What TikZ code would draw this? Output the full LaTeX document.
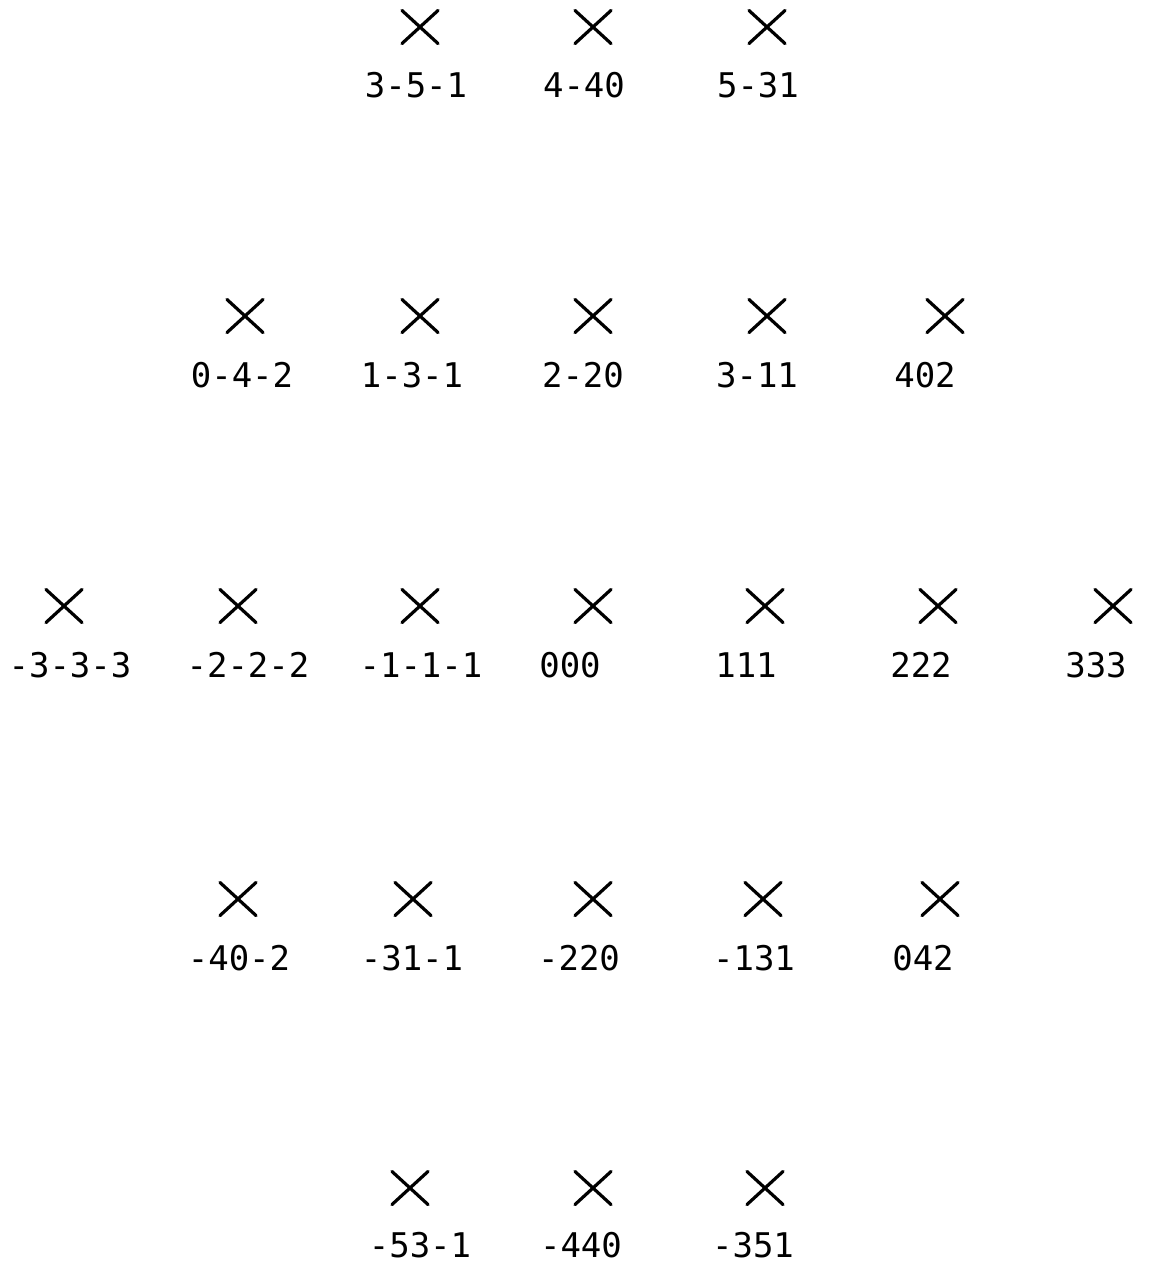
\documentclass[tikz,border=0pt]{standalone}
\usepackage{fontspec}
\setmonofont{DejaVu Sans Mono}
\usetikzlibrary{shapes.misc}

\tikzset{spot/.style = {cross out, draw, line width=1.6pt, line cap=round,
                        inner sep=0, minimum width=16.5pt, minimum height=15pt}}
\tikzset{hkl/.style = {inner sep=0, font=\fontsize{17}{20}\selectfont\ttfamily}}

\begin{document}
\begin{tikzpicture}[x=0.5pt, y=-0.5pt]
      \useasboundingbox (0,0) rectangle (1152,1271);

      % top row
      \node[spot] (a1) at (420,27) {};
      \node[spot] (a2) at (593,27) {};
      \node[spot] (a3) at (767,27) {};
      \node[hkl] (la1) at (416,85) {3-5-1};
      \node[hkl] (la2) at (584,85) {4-40};
      \node[hkl] (la3) at (758,85) {5-31};

      % second row
      \node[spot] (b1) at (245,316) {};
      \node[spot] (b2) at (420,316) {};
      \node[spot] (b3) at (593,316) {};
      \node[spot] (b4) at (767,316) {};
      \node[spot] (b5) at (945,316) {};
      \node[hkl] (lb1) at (242,375) {0-4-2};
      \node[hkl] (lb2) at (412,375) {1-3-1};
      \node[hkl] (lb3) at (583,375) {2-20};
      \node[hkl] (lb4) at (757,375) {3-11};
      \node[hkl] (lb5) at (925,375) {402};

      % middle row
      \node[spot] (c1) at (64,606) {};
      \node[spot] (c2) at (238,606) {};
      \node[spot] (c3) at (420,606) {};
      \node[spot] (c4) at (593,606) {};
      \node[spot] (c5) at (765,606) {};
      \node[spot] (c6) at (938,606) {};
      \node[spot] (c7) at (1113,606) {};
      \node[hkl] (lc1) at (70,665) {-3-3-3};
      \node[hkl] (lc2) at (248,665) {-2-2-2};
      \node[hkl] (lc3) at (421,665) {-1-1-1};
      \node[hkl] (lc4) at (570,665) {000};
      \node[hkl] (lc5) at (746,665) {111};
      \node[hkl] (lc6) at (921,665) {222};
      \node[hkl] (lc7) at (1096,665) {333};

      % fourth row
      \node[spot] (d1) at (238,899) {};
      \node[spot] (d2) at (413,899) {};
      \node[spot] (d3) at (593,899) {};
      \node[spot] (d4) at (763,899) {};
      \node[spot] (d5) at (940,899) {};
      \node[hkl] (ld1) at (239,958) {-40-2};
      \node[hkl] (ld2) at (412,958) {-31-1};
      \node[hkl] (ld3) at (579,958) {-220};
      \node[hkl] (ld4) at (754,958) {-131};
      \node[hkl] (ld5) at (923,958) {042};

      % bottom row
      \node[spot] (e1) at (410,1188) {};
      \node[spot] (e2) at (593,1188) {};
      \node[spot] (e3) at (765,1188) {};
      \node[hkl] (le1) at (420,1245) {-53-1};
      \node[hkl] (le2) at (581,1245) {-440};
      \node[hkl] (le3) at (753,1245) {-351};
\end{tikzpicture}
\end{document}
